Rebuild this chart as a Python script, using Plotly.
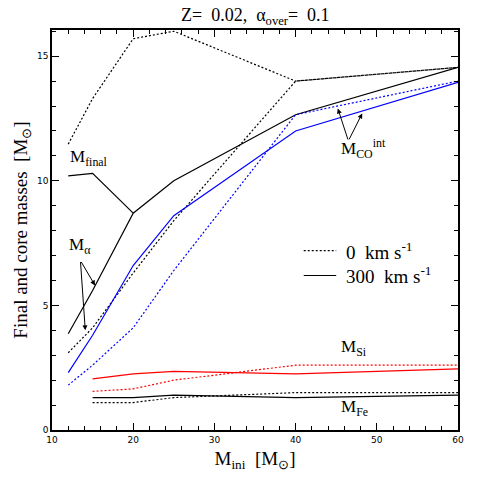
import plotly.graph_objects as go

x_all = [12, 15, 20, 25, 40, 60]
x_core = [15, 20, 25, 40, 60]
mfinal_0 = [11.47, 13.3, 15.7, 16.0, 14.0, 14.55]
malpha_0 = [3.1, 4.1, 6.3, 8.4, 14.0, 14.55]
mfinal_300 = [3.86, 5.6, 8.7, 10.0, 12.65, 14.55]
mco_0 = [1.8, 2.6, 4.1, 6.4, 12.65, 14.0]
mco_300 = [2.3, 3.8, 6.6, 8.6, 12.0, 13.95]
msi_0 = [1.55, 1.65, 2.0, 2.6, 2.6]
msi_300 = [2.05, 2.25, 2.35, 2.25, 2.45]
mfe_0 = [1.1, 1.1, 1.3, 1.5, 1.5]
mfe_300 = [1.3, 1.3, 1.4, 1.3, 1.4]

F = "Liberation Serif"
DOT = "2px,2px"
fig = go.Figure()
def line(x, y, color, dash):
    fig.add_trace(go.Scatter(x=x, y=y, mode="lines", showlegend=False,
                             line=dict(color=color, width=1.2, dash=dash)))
line(x_all, mfinal_0, "black", DOT)
line(x_all, malpha_0, "black", DOT)
line(x_all, mfinal_300, "black", "solid")
line(x_all, mco_0, "blue", DOT)
line(x_all, mco_300, "blue", "solid")
line(x_core, msi_0, "red", DOT)
line(x_core, msi_300, "red", "solid")
line(x_core, mfe_0, "black", DOT)
line(x_core, mfe_300, "black", "solid")
# pointer line for M_final
line([12, 15, 20], [10.2, 10.3, 8.7], "black", "solid")
# legend samples
line([41, 45], [7.2, 7.2], "black", DOT)
line([41, 45], [6.2, 6.2], "black", "solid")

ann = []
def txt(x, y, t, size=17, xa="left"):
    ann.append(dict(x=x, y=y, text=t, showarrow=False, xanchor=xa,
                    font=dict(family=F, size=size, color="black")))
txt(12.0, 10.9, "M<sub>final</sub>")
txt(11.8, 7.4, "M<sub>α</sub>")
txt(45.3, 11.3, "M<sub>CO</sub><sup>int</sup>")
txt(46, 7.2, "0  km s<sup>-1</sup>", 19)
txt(46, 6.2, "300  km s<sup>-1</sup>", 19)
txt(45.3, 3.3, "M<sub>Si</sub>")
txt(45.3, 0.9, "M<sub>Fe</sub>")
for (ax_, ay_, x_, y_) in [(13.5, 6.8, 15.3, 5.8), (13.5, 6.8, 14.1, 4.0),
                           (46.5, 11.6, 45.2, 12.9), (46.5, 11.6, 48.2, 12.7)]:
    ann.append(dict(x=x_, y=y_, ax=ax_, ay=ay_, axref="x", ayref="y", text="",
                    showarrow=True, arrowhead=2, arrowsize=1, arrowwidth=1, arrowcolor="black"))
ann.append(dict(x=0.5, y=1.0, xref="paper", yref="paper", yanchor="bottom", showarrow=False,
                text="Z=  0.02,  α<sub>over</sub>=  0.1", font=dict(family=F, size=18, color="black")))

axcommon = dict(showgrid=False, zeroline=False, showline=True, linecolor="black", linewidth=1.5,
                mirror="ticks", ticks="inside", ticklen=7, tickcolor="black",
                tickfont=dict(family="DejaVu Sans", size=9, color="black"))
fig.update_layout(
    width=480, height=480, margin=dict(l=44, r=30, t=22, b=58),
    plot_bgcolor="white", paper_bgcolor="white", annotations=ann,
    xaxis=dict(range=[10, 60], tickvals=[10, 20, 30, 40, 50, 60],
               minor=dict(dtick=2, ticks="inside", ticklen=4, tickcolor="black"),
               title=dict(text="M<sub>ini</sub>  [M<sub>⊙</sub>]", font=dict(family=F, size=19, color="black"), standoff=8),
               **axcommon),
    yaxis=dict(range=[0, 16.05], tickvals=[0, 5, 10, 15],
               minor=dict(dtick=1, ticks="inside", ticklen=4, tickcolor="black"),
               title=dict(text="Final and core masses  [M<sub>⊙</sub>]", font=dict(family=F, size=19, color="black"), standoff=4),
               **axcommon),
)
fig.write_html("out.html")
